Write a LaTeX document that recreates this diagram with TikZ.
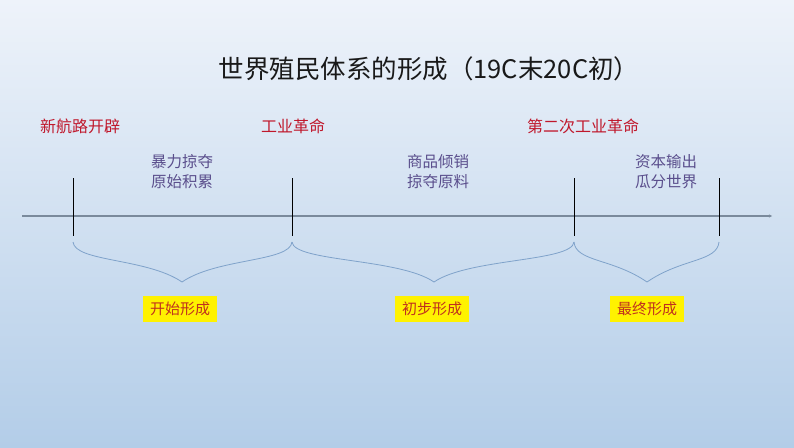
\documentclass[tikz,border=0pt]{standalone}
\usepackage{fontspec}
\newfontfamily\cjk{Noto Sans CJK SC}
\usetikzlibrary{arrows.meta}
\definecolor{bgtop}{HTML}{EEF3FA}
\definecolor{bgbot}{HTML}{B3CDE8}
\definecolor{eventred}{HTML}{C0182C}
\definecolor{notepurple}{HTML}{5A4E8C}
\definecolor{axiscol}{HTML}{7A8A9C}
\definecolor{bracecol}{HTML}{7FA2CA}
\definecolor{boxtext}{HTML}{C0301E}
\tikzset{
  event/.style={text=eventred, font=\cjk\fontsize{16}{18}\selectfont, inner sep=0pt},
  note/.style={text=notepurple, font=\cjk\fontsize{15.5}{20}\selectfont, align=center, inner sep=0pt},
  stage/.style={fill=yellow, text=boxtext, font=\cjk\fontsize{15}{16}\selectfont, minimum width=74pt, minimum height=26pt, inner sep=0pt},
  tickline/.style={draw=black, line width=0.8pt},
  axis/.style={draw=axiscol, line width=1.8pt, -{Stealth[length=3pt,width=3pt]}},
  bracel/.style={draw=bracecol, line width=0.8pt}
}
\newcommand{\mybrace}[3]{%
  \draw[bracel] (#1,242) .. controls (#1+2,262) and (#3-35,258) .. (#3,282)
                 .. controls (#3+35,258) and (#2-2,262) .. (#2,242);}
\begin{document}
\begin{tikzpicture}[x=1pt,y=-1pt]
\shade[top color=bgtop, bottom color=bgbot] (0,0) rectangle (794,447);
\useasboundingbox (0,0) rectangle (794,447);

\node[text=black!90, font=\cjk\fontsize{25.5}{28}\selectfont, inner sep=0pt] (title) at (429,69) {世界殖民体系的形成（19C末20C初）};

\node[event] (e1) at (80,126) {新航路开辟};
\node[event] (e2) at (293,126) {工业革命};
\node[event] (e3) at (583,126) {第二次工业革命};

\node[note] (n1) at (182,172) {暴力掠夺\\原始积累};
\node[note] (n2) at (438,172) {商品倾销\\掠夺原料};
\node[note] (n3) at (666,172) {资本输出\\瓜分世界};

\coordinate (ls) at (22,216);
\coordinate (le) at (772,216);
\draw[axis] (ls) -- (le);

\coordinate (t1a) at (73,178);  \coordinate (t1b) at (73,236);
\coordinate (t2a) at (292,178); \coordinate (t2b) at (292,236);
\coordinate (t3a) at (574,178); \coordinate (t3b) at (574,236);
\coordinate (t4a) at (719,178); \coordinate (t4b) at (719,236);
\draw[tickline] (t1a) -- (t1b);
\draw[tickline] (t2a) -- (t2b);
\draw[tickline] (t3a) -- (t3b);
\draw[tickline] (t4a) -- (t4b);

\mybrace{73}{292}{182}
\mybrace{292}{574}{434}
\mybrace{574}{719}{647}

\node[stage] (s1) at (180,309) {开始形成};
\node[stage] (s2) at (432,309) {初步形成};
\node[stage] (s3) at (647,309) {最终形成};
\end{tikzpicture}
\end{document}
